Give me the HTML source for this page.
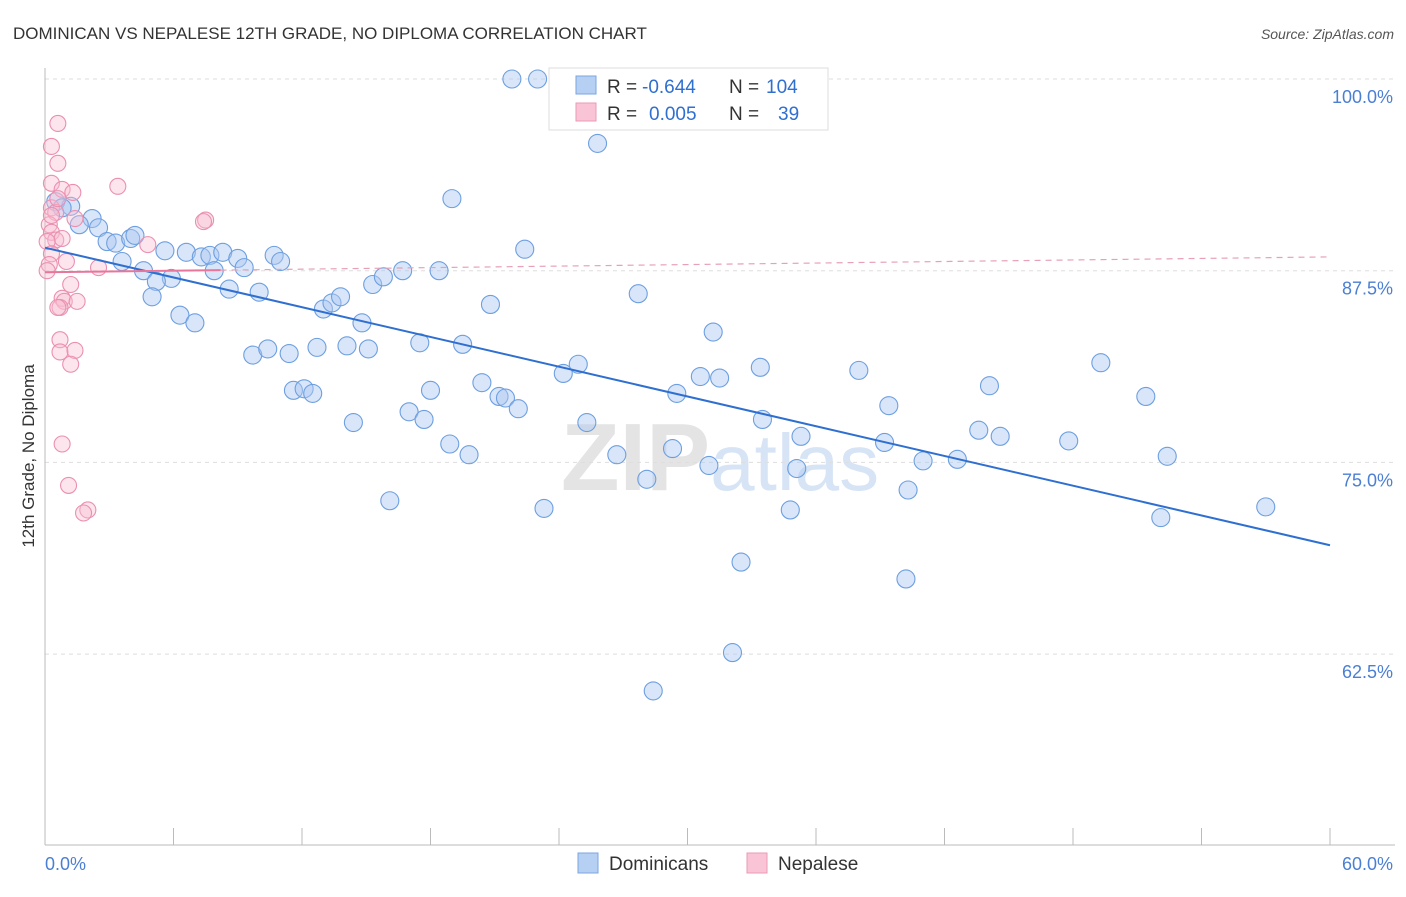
<!DOCTYPE html>
<html><head><meta charset="utf-8"><style>
body{margin:0;background:#fff;font-family:"Liberation Sans",sans-serif}
svg text{font-family:"Liberation Sans",sans-serif}
</style></head><body>
<svg id="chart" width="1406" height="892" xmlns="http://www.w3.org/2000/svg">
<text x="13" y="39" font-size="17" fill="#333">DOMINICAN VS NEPALESE 12TH GRADE, NO DIPLOMA CORRELATION CHART</text>
<text x="1394" y="39" font-size="14" fill="#555" text-anchor="end" font-style="italic">Source: ZipAtlas.com</text>
<text x="720" y="490" font-size="96" text-anchor="middle" fill="#e4e4e4" font-family="Liberation Serif" font-weight="bold">ZIP<tspan fill="#d6e4f5" font-family="Liberation Sans" font-weight="normal" font-size="80">atlas</tspan></text>
<g id="grid"></g>
<g id="axes"></g>
<g id="marks"></g>
<text transform="translate(34,456) rotate(-90)" font-size="17" fill="#333" text-anchor="middle">12th Grade, No Diploma</text>
<g>
<rect x="549" y="68" width="279" height="62" fill="#fff" stroke="#ddd"/>
<rect x="576" y="76" width="20" height="18" fill="#b5d0f3" stroke="#7aa6e0"/>
<rect x="576" y="103" width="20" height="18" fill="#f9c4d5" stroke="#eb9ab6"/>
<text x="607" y="93" font-size="19" fill="#333">R =</text>
<text x="642" y="93" font-size="19" fill="#2f6fd0">-0.644</text>
<text x="729" y="93" font-size="19" fill="#333">N =</text>
<text x="766" y="93" font-size="19" fill="#2f6fd0">104</text>
<text x="607" y="120" font-size="19" fill="#333">R =</text>
<text x="649" y="120" font-size="19" fill="#2f6fd0">0.005</text>
<text x="729" y="120" font-size="19" fill="#333">N =</text>
<text x="778" y="120" font-size="19" fill="#2f6fd0">39</text>
</g>
<g>
<rect x="578" y="853" width="20" height="20" fill="#b5d0f3" stroke="#7aa6e0"/>
<text x="609" y="870" font-size="19" fill="#333">Dominicans</text>
<rect x="747" y="853" width="20" height="20" fill="#f9c4d5" stroke="#eb9ab6"/>
<text x="778" y="870" font-size="19" fill="#333">Nepalese</text>
</g>
</svg>
<script>
const yTicks=[100,87.5,75,62.5];
const yTickLabels=["100.0%","87.5%","75.0%","62.5%"];
const xTickLabels=["0.0%","60.0%"];
const blueX=[21.8,23.0,25.8,19.0,22.4,0.5,1.2,0.8,2.2,1.6,2.5,2.9,3.3,4.0,4.2,3.6,5.6,6.6,7.3,7.7,8.3,9.0,9.3,10.7,11.0,7.9,4.6,5.9,5.2,5.0,8.6,10.0,6.3,7.0,13.0,13.4,13.8,14.8,15.3,15.8,16.7,18.4,20.8,27.7,31.2,9.7,10.4,11.4,12.7,14.1,15.1,17.5,19.5,11.6,12.1,12.5,18.0,20.4,21.2,21.5,22.1,17.0,17.7,14.4,18.9,19.8,16.1,23.3,24.2,24.9,25.3,26.7,28.1,29.3,29.5,30.6,31.5,31.0,33.4,33.5,35.3,35.1,34.8,38.0,39.4,39.2,41.0,40.3,42.6,40.2,32.5,32.1,28.4,44.1,43.6,44.6,47.8,49.3,51.4,52.4,52.1,57.0];
const blueY=[100.0,100.0,95.8,92.2,88.9,92.0,91.7,91.6,90.9,90.5,90.3,89.4,89.3,89.6,89.8,88.1,88.8,88.7,88.4,88.5,88.7,88.3,87.7,88.5,88.1,87.5,87.5,87.0,86.8,85.8,86.3,86.1,84.6,84.1,85.0,85.4,85.8,84.1,86.6,87.1,87.5,87.5,85.3,86.0,83.5,82.0,82.4,82.1,82.5,82.6,82.4,82.8,82.7,79.7,79.8,79.5,79.7,80.2,79.3,79.2,78.5,78.3,77.8,77.6,76.2,75.5,72.5,72.0,80.8,81.4,77.6,75.5,73.9,75.9,79.5,80.6,80.5,74.8,81.2,77.8,76.7,74.6,71.9,81.0,78.7,76.3,75.1,73.2,75.2,67.4,68.5,62.6,60.1,80.0,77.1,76.7,76.4,81.5,79.3,75.4,71.4,72.1];
const pinkX=[0.6,0.3,0.6,0.3,0.8,1.3,3.4,7.5,7.4,0.3,0.5,1.4,0.2,0.3,0.5,0.8,0.1,4.8,0.3,1.0,0.2,2.5,1.2,0.8,0.9,1.5,0.7,0.6,0.7,0.7,1.4,1.2,0.8,1.1,2.0,1.8,0.3,0.6,0.1];
const pinkY=[97.1,95.6,94.5,93.2,92.8,92.6,93.0,90.8,90.7,91.6,91.3,90.9,90.5,90.0,89.5,89.6,89.4,89.2,88.6,88.1,87.9,87.7,86.6,85.7,85.5,85.5,85.1,85.1,83.0,82.2,82.3,81.4,76.2,73.5,71.9,71.7,91.1,92.2,87.5];
const blueTrend=[[0,89.0],[60,69.6]];
const pinkTrend=[[0,87.4],[60,88.4]];
const pinkSolidEnd=8.2;

const NS="http://www.w3.org/2000/svg";
const X=v=>45+v/60*1285;
const Y=v=>79+(100-v)/12.5*191.7;
function mk(tag,attrs,parent){const e=document.createElementNS(NS,tag);for(const k in attrs)e.setAttribute(k,attrs[k]);document.getElementById(parent).appendChild(e);return e;}
yTicks.forEach((t,i)=>{
 const g=mk('line',{x1:45,x2:1395,y1:Y(t),y2:Y(t),stroke:'#ddd','stroke-dasharray':'4,4'},'grid');
 
 
 const l=mk('text',{x:1393,y:Y(t)+24,'font-size':18,fill:'#4a7fd4','text-anchor':'end'},'axes');
 l.textContent=yTickLabels[i];
 
 
});
const ya=mk('line',{x1:45,x2:45,y1:68,y2:845,stroke:'#bbb'},'axes');


const xa=mk('line',{x1:45,x2:1395,y1:845,y2:845,stroke:'#bbb'},'axes');


for(let i=0;i<=10;i++){
 const t=mk('line',{x1:X(i*6),x2:X(i*6),y1:828,y2:845,stroke:'#bbb'},'axes');
 
 
}
[[0,'start',45],[60,'end',1393]].forEach((d,i)=>{
 const l=mk('text',{x:d[2],y:870,'font-size':18,fill:'#4a7fd4','text-anchor':d[1]},'axes');
 l.textContent=xTickLabels[i];
 
 
});
blueX.forEach((x,i)=>{
 const c=mk('circle',{cx:X(x),cy:Y(blueY[i]),r:9,fill:'rgba(170,200,242,0.45)',stroke:'#6d9fe0','stroke-width':1.1},'marks');
 
 
});
pinkX.forEach((x,i)=>{
 const c=mk('circle',{cx:X(x),cy:Y(pinkY[i]),r:8,fill:'rgba(247,190,210,0.4)',stroke:'#eb8fb0','stroke-width':1.1},'marks');
 
 
});
const bl=mk('line',{x1:X(blueTrend[0][0]),y1:Y(blueTrend[0][1]),x2:X(blueTrend[1][0]),y2:Y(blueTrend[1][1]),stroke:'#2f6fd0','stroke-width':2},'marks');


const py=x=>pinkTrend[0][1]+(pinkTrend[1][1]-pinkTrend[0][1])*(x-pinkTrend[0][0])/(pinkTrend[1][0]-pinkTrend[0][0]);
const pd=mk('line',{x1:X(pinkSolidEnd),y1:Y(py(pinkSolidEnd)),x2:X(pinkTrend[1][0]),y2:Y(pinkTrend[1][1]),stroke:'#e8a0b8','stroke-width':1.2,'stroke-dasharray':'6,5'},'marks');


const ps=mk('line',{x1:X(pinkTrend[0][0]),y1:Y(pinkTrend[0][1]),x2:X(pinkSolidEnd),y2:Y(py(pinkSolidEnd)),stroke:'#e8759a','stroke-width':2},'marks');


</script>
</body></html>
